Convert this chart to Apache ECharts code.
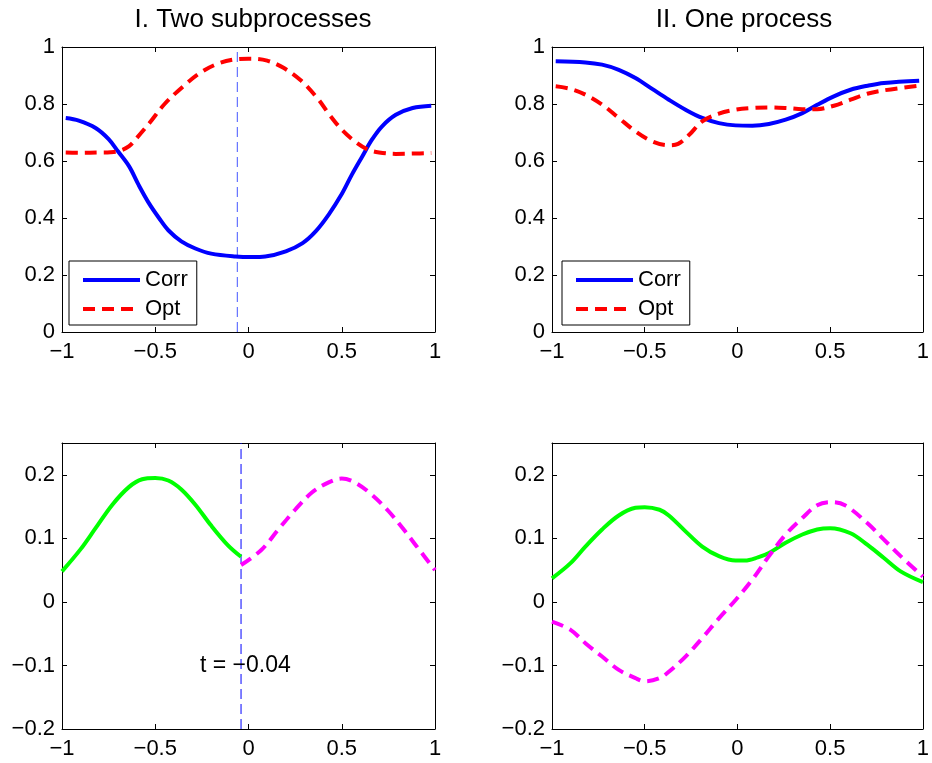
<!DOCTYPE html>
<html>
<head>
<meta charset="utf-8">
<script src="https://cdn.jsdelivr.net/npm/echarts@6/dist/echarts.min.js"></script>
<style>html,body{margin:0;padding:0;background:#fff}#c{width:932px;height:763px}</style>
</head>
<body>
<div id="c"></div>
<script>
// ---- data ----
var titles = ['I. Two subprocesses', 'II. One process'];
var legendNames = ['Corr', 'Opt'];
var xTicks = [-1, -0.5, 0, 0.5, 1];
var topYTicks = [0, 0.2, 0.4, 0.6, 0.8, 1];
var bottomYTicks = [-0.2, -0.1, 0, 0.1, 0.2];
var bottomYMax = 0.25;

// Top-left (I): Corr & Opt
var tlCorrX = [-0.98,-0.91,-0.82,-0.75,-0.7,-0.64,-0.59,-0.535,-0.48,-0.43,-0.36,-0.285,-0.2,-0.07,0.02,0.09,0.2,0.29,0.36,0.43,0.5,0.555,0.61,0.66,0.715,0.79,0.88,0.98];
var tlCorrY = [0.751,0.742,0.716,0.677,0.634,0.581,0.517,0.453,0.4,0.357,0.318,0.293,0.275,0.265,0.263,0.265,0.283,0.312,0.353,0.412,0.484,0.553,0.616,0.673,0.721,0.762,0.786,0.794];
var tlOptX = [-0.98,-0.9,-0.8,-0.74,-0.69,-0.64,-0.6,-0.53,-0.45,-0.35,-0.26,-0.17,-0.08,0,0.1,0.19,0.28,0.37,0.43,0.5,0.57,0.64,0.7,0.79,0.88,0.98];
var tlOptY = [0.63,0.629,0.63,0.631,0.636,0.652,0.68,0.734,0.8,0.862,0.909,0.94,0.956,0.959,0.952,0.926,0.883,0.82,0.766,0.71,0.669,0.64,0.63,0.625,0.626,0.628];
var tlMarker = -0.06;

// Top-right (II): Corr & Opt
var trCorrX = [-0.98,-0.82,-0.73,-0.64,-0.55,-0.46,-0.37,-0.28,-0.19,-0.1,-0.01,0.08,0.17,0.26,0.35,0.43,0.52,0.61,0.7,0.79,0.98];
var trCorrY = [0.95,0.946,0.938,0.92,0.891,0.853,0.815,0.78,0.751,0.733,0.725,0.724,0.73,0.745,0.768,0.797,0.827,0.85,0.864,0.874,0.882];
var trOptX = [-0.98,-0.9,-0.82,-0.73,-0.64,-0.55,-0.46,-0.37,-0.32,-0.26,-0.19,-0.1,-0.01,0.08,0.17,0.26,0.35,0.43,0.52,0.61,0.7,0.79,0.98];
var trOptY = [0.862,0.853,0.833,0.798,0.751,0.704,0.669,0.655,0.66,0.692,0.739,0.766,0.78,0.786,0.788,0.786,0.782,0.782,0.794,0.815,0.836,0.848,0.864];

// Bottom-left (I): green solid left of t, magenta dashed right of t
var blGreenX = [-1,-0.9,-0.82,-0.73,-0.64,-0.57,-0.5,-0.43,-0.36,-0.285,-0.2,-0.11,-0.04];
var blGreenY = [0.048,0.083,0.116,0.153,0.181,0.193,0.195,0.191,0.177,0.153,0.12,0.089,0.071];
var blMagX = [-0.04,0.07,0.16,0.25,0.34,0.43,0.5,0.57,0.66,0.75,0.84,0.9,1];
var blMagY = [0.058,0.082,0.114,0.145,0.172,0.188,0.194,0.188,0.169,0.143,0.111,0.088,0.05];
var blMarker = -0.04;
var blText = 't = \u22120.04';
var blTextPos = [-0.26, -0.1];

// Bottom-right (II)
var brGreenX = [-1,-0.9,-0.82,-0.73,-0.64,-0.55,-0.5,-0.42,-0.37,-0.28,-0.19,-0.1,-0.01,0.04,0.11,0.17,0.26,0.35,0.43,0.5,0.61,0.7,0.79,0.88,1];
var brGreenY = [0.037,0.061,0.087,0.114,0.136,0.148,0.149,0.145,0.136,0.111,0.087,0.072,0.065,0.065,0.07,0.077,0.093,0.106,0.114,0.116,0.108,0.09,0.069,0.048,0.031];
var brMagX = [-1,-0.9,-0.82,-0.73,-0.64,-0.55,-0.5,-0.42,-0.37,-0.28,-0.19,-0.1,-0.01,0.08,0.17,0.26,0.35,0.43,0.5,0.58,0.7,0.79,0.88,1];
var brMagY = [-0.031,-0.044,-0.065,-0.086,-0.107,-0.12,-0.125,-0.12,-0.11,-0.086,-0.057,-0.026,0.003,0.035,0.072,0.106,0.132,0.152,0.157,0.152,0.124,0.098,0.072,0.04];

// ---- build ----
function zip(xs, ys) { return xs.map(function (x, i) { return [x, ys[i]]; }); }
var FONT = '"Liberation Sans", Arial, Helvetica, sans-serif';
function fmt(v) { return String(Math.round(v * 1000) / 1000).replace('-', '\u2212'); }

var grids = [
  {left: 62, top: 47, width: 373, height: 285},
  {left: 552, top: 47, width: 374, height: 285},
  {left: 62, top: 443, width: 373, height: 286},
  {left: 552, top: 443, width: 374, height: 286}
];
var xAxes = [], yAxes = [];
grids.forEach(function (g, i) {
  var isTop = i < 2;
  var yt = isTop ? topYTicks : bottomYTicks;
  var ymin = yt[0], ymax = isTop ? yt[yt.length - 1] : bottomYMax;
  var common = {
    axisLine: {show: true, onZero: false, lineStyle: {color: '#000', width: 1}},
    axisTick: {show: true, inside: true, length: 5, lineStyle: {color: '#000'}},
    splitLine: {show: false}
  };
  xAxes.push(Object.assign({type: 'value', gridIndex: i, position: 'bottom', min: xTicks[0], max: xTicks[xTicks.length - 1], interval: 0.5,
    axisLabel: {formatter: fmt, fontSize: 22, color: '#000', fontFamily: FONT, margin: 9}}, common));
  xAxes.push(Object.assign({type: 'value', gridIndex: i, position: 'top', min: xTicks[0], max: xTicks[xTicks.length - 1], interval: 0.5,
    axisLabel: {show: false}}, common));
  yAxes.push(Object.assign({type: 'value', gridIndex: i, position: 'left', min: ymin, max: ymax, interval: isTop ? 0.2 : 0.1,
    axisLabel: {formatter: fmt, fontSize: 22, color: '#000', fontFamily: FONT, margin: 7, showMaxLabel: isTop}}, common));
  yAxes.push(Object.assign({type: 'value', gridIndex: i, position: 'right', min: ymin, max: ymax, interval: isTop ? 0.2 : 0.1,
    axisLabel: {show: false}}, common));
});

function line(name, data, gi, color, dashed) {
  return {
    name: name, type: 'line', xAxisIndex: gi * 2, yAxisIndex: gi * 2, data: data,
    symbol: 'none', smooth: 0.35, silent: true, animation: false,
    lineStyle: {color: color, width: 4, type: dashed ? [12, 7] : 'solid'},
    itemStyle: {color: color}
  };
}
function vline(name, v, y0, y1, gi, color) {
  return {
    name: name, type: 'line', xAxisIndex: gi * 2, yAxisIndex: gi * 2, data: [[v, y0], [v, y1]],
    symbol: 'none', silent: true, animation: false, z: 1,
    lineStyle: {color: color, width: 1, type: [10, 5]},
    itemStyle: {color: color}
  };
}

var series = [
  vline('tmarkTop', tlMarker, topYTicks[0], topYTicks[topYTicks.length - 1], 0, '#4455ff'),
  line('Corr', zip(tlCorrX, tlCorrY), 0, '#0000ff', false),
  line('Opt', zip(tlOptX, tlOptY), 0, '#ff0000', true),
  line('Corr', zip(trCorrX, trCorrY), 1, '#0000ff', false),
  line('Opt', zip(trOptX, trOptY), 1, '#ff0000', true),
  vline('tmarkBottom', blMarker, bottomYTicks[0], bottomYMax, 2, '#0000ff'),
  line('g1', zip(blGreenX, blGreenY), 2, '#00ff00', false),
  line('m1', zip(blMagX, blMagY), 2, '#ff00ff', true),
  line('g2', zip(brGreenX, brGreenY), 3, '#00ff00', false),
  line('m2', zip(brMagX, brMagY), 3, '#ff00ff', true),
  {type: 'scatter', xAxisIndex: 4, yAxisIndex: 4, data: [blTextPos], symbolSize: 0, silent: true, animation: false,
   itemStyle: {opacity: 1},
   label: {show: true, position: 'right', distance: 0, formatter: blText, fontSize: 23, color: '#000', opacity: 1, fontFamily: FONT}}
];

function legend(left) {
  return {
    left: left, top: 261, orient: 'vertical', data: legendNames,
    itemWidth: 57, itemHeight: 14, itemGap: 7, padding: [8, 9, 5, 12],
    borderColor: '#000', borderWidth: 1, borderRadius: 0, backgroundColor: '#fff',
    selectedMode: false,
    itemStyle: {opacity: 0},
    lineStyle: {width: 4},
    textStyle: {fontSize: 22, color: '#000', fontFamily: FONT}
  };
}

var option = {
  backgroundColor: '#fff',
  animation: false,
  title: [
    {text: titles[0], left: 248, top: 2, textAlign: 'center', textStyle: {fontSize: 26, fontWeight: 'normal', color: '#000', fontFamily: FONT}},
    {text: titles[1], left: 739, top: 2, textAlign: 'center', textStyle: {fontSize: 26, fontWeight: 'normal', color: '#000', fontFamily: FONT}}
  ],
  grid: grids,
  xAxis: xAxes,
  yAxis: yAxes,
  legend: [legend(69), legend(562)],
  series: series
};
var chart = echarts.init(document.getElementById('c'), null, {renderer: 'canvas'});
chart.setOption(option);
</script>
</body>
</html>
